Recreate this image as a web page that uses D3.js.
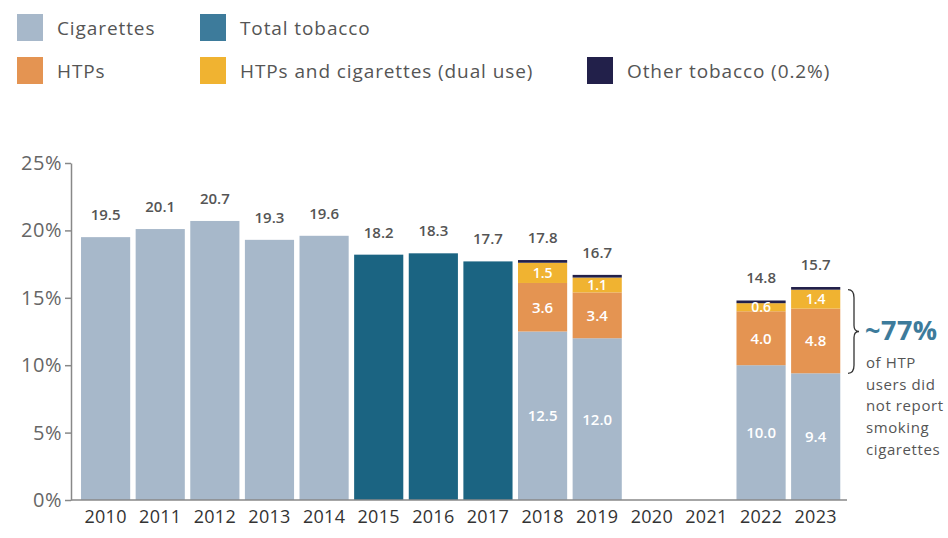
<!DOCTYPE html>
<html>
<head>
<meta charset="utf-8">
<script src="https://cdn.jsdelivr.net/npm/d3@7"></script>
<style>
  body { margin: 0; background: #fff; }
  svg { font-family: 'Open Sans', 'Noto Sans', sans-serif; }
</style>
</head>
<body>
<script>
const years = [2010, 2011, 2012, 2013, 2014, 2015, 2016, 2017, 2018, 2019, 2020, 2021, 2022, 2023]
const cigarettes = [19.5, 20.1, 20.7, 19.3, 19.6, null, null, null, 12.5, 12.0, null, null, 10.0, 9.4]
const totalTobacco = [null, null, null, null, null, 18.2, 18.3, 17.7, null, null, null, null, null, null]
const htps = [null, null, null, null, null, null, null, null, 3.6, 3.4, null, null, 4.0, 4.8]
const dualUse = [null, null, null, null, null, null, null, null, 1.5, 1.1, null, null, 0.6, 1.4]
const otherTobacco = [null, null, null, null, null, null, null, null, 0.2, 0.2, null, null, 0.2, 0.2]
const totals = [19.5, 20.1, 20.7, 19.3, 19.6, 18.2, 18.3, 17.7, 17.8, 16.7, null, null, 14.8, 15.7]
const yTicks = [0, 5, 10, 15, 20, 25]

const legendItems = [
  { label: 'Cigarettes', color: '#a7b8ca', row: 0, col: 0 },
  { label: 'Total tobacco', color: '#3d7b9b', row: 0, col: 1 },
  { label: 'HTPs', color: '#e49452', row: 1, col: 0 },
  { label: 'HTPs and cigarettes (dual use)', color: '#f0b331', row: 1, col: 1 },
  { label: 'Other tobacco (0.2%)', color: '#22204a', row: 1, col: 2 }
]

const colors = {
  cig: '#a7b8ca',
  total: '#1b6482',
  htp: '#e49452',
  dual: '#f0b331',
  other: '#22204a'
}

let width = 948
let height = 538

let svg = d3.select('body').append('svg')
  .attr('width', width)
  .attr('height', height)

let x = d3.scaleBand()
  .domain(years)
  .range([78.3, 843])
  .paddingInner(0.1)
  .paddingOuter(0.05)

let y = d3.scaleLinear()
  .domain([0, 25])
  .range([500, 163])

// legend
let colX = [17, 200, 587]
let rowY = [14, 57]
let legend = svg.selectAll('.legend')
  .data(legendItems)
  .enter().append('g')
  .attr('class', 'legend')
  .attr('transform', d => `translate(${colX[d.col]},${rowY[d.row]})`)

legend.append('rect')
  .attr('width', 26)
  .attr('height', 27)
  .attr('fill', d => d.color)

legend.append('text')
  .attr('x', 40)
  .attr('y', 14)
  .attr('dy', '0.35em')
  .attr('fill', '#555')
  .style('font-size', '19px')
  .style('letter-spacing', '0.9px')
  .text(d => d.label)

// build stacked segments per year
let segments = []
years.forEach((yr, i) => {
  let base = 0
  let parts = [
    { key: 'cig', v: cigarettes[i] },
    { key: 'total', v: totalTobacco[i] },
    { key: 'htp', v: htps[i] },
    { key: 'dual', v: dualUse[i] },
    { key: 'other', v: otherTobacco[i] }
  ]
  let stacked = htps[i] != null
  parts.forEach(p => {
    if (p.v == null) return
    segments.push({ year: yr, key: p.key, y0: base, y1: base + p.v, v: p.v, stacked: stacked })
    base += p.v
  })
})

svg.selectAll('.seg')
  .data(segments)
  .enter().append('rect')
  .attr('class', 'seg')
  .attr('x', d => x(d.year))
  .attr('width', x.bandwidth())
  .attr('y', d => y(d.y1))
  .attr('height', d => y(d.y0) - y(d.y1))
  .attr('fill', d => colors[d.key])

// labels inside stacked segments
svg.selectAll('.seglabel')
  .data(segments.filter(d => d.stacked && d.key !== 'other'))
  .enter().append('text')
  .attr('class', 'seglabel')
  .attr('x', d => x(d.year) + x.bandwidth() / 2)
  .attr('y', d => y((d.y0 + d.y1) / 2))
  .attr('dy', '0.36em')
  .attr('text-anchor', 'middle')
  .attr('fill', '#fff')
  .style('font-size', d => d.key === 'dual' ? '14px' : '15px')
  .style('font-weight', '600')
  .text(d => d.v.toFixed(1))

// total labels on top
let topData = years.map((yr, i) => ({ year: yr, total: totals[i], top: [cigarettes[i], totalTobacco[i], htps[i], dualUse[i], otherTobacco[i]].reduce((a, b) => a + (b || 0), 0) }))
  .filter(d => d.total != null)

svg.selectAll('.toplabel')
  .data(topData)
  .enter().append('text')
  .attr('class', 'toplabel')
  .attr('x', d => x(d.year) + x.bandwidth() / 2)
  .attr('y', d => y(d.top) - 17)
  .attr('text-anchor', 'middle')
  .attr('fill', '#555')
  .style('font-size', '15px')
  .style('font-weight', '600')
  .text(d => d.total.toFixed(1))

// axes
let yAxis = svg.append('g')
  .attr('transform', 'translate(71,0)')
  .call(d3.axisLeft(y).tickValues(yTicks).tickFormat(d => d + '%').tickSize(6).tickSizeOuter(0))
yAxis.select('.domain').attr('stroke', '#888').attr('stroke-width', 1.5)
yAxis.selectAll('.tick line').attr('stroke', '#888').attr('stroke-width', 1.5)
yAxis.selectAll('.tick text')
  .attr('x', -9)
  .attr('fill', '#666')
  .style('font-size', '20px')
  .style('letter-spacing', '0.5px')
  .style('font-family', "'Open Sans', sans-serif")

let xAxis = svg.append('g')
  .attr('transform', 'translate(0,500)')
  .call(d3.axisBottom(x).tickSize(0).tickSizeOuter(0).tickPadding(10))
xAxis.select('.domain').attr('d', 'M71,0H847').attr('stroke', '#888').attr('stroke-width', 1.5)
xAxis.selectAll('.tick text')
  .attr('fill', '#333')
  .style('font-size', '18px')
  .style('letter-spacing', '0.3px')
  .style('font-family', "'Open Sans', sans-serif")

// brace annotation for 2023
let lastIdx = years.length - 1
let braceTop = y(cigarettes[lastIdx] + htps[lastIdx] + dualUse[lastIdx])
let braceBot = y(cigarettes[lastIdx])
let bx = 848
let bm = (braceTop + braceBot) / 2
svg.append('path')
  .attr('d', `M${bx},${braceTop} Q${bx + 6},${braceTop} ${bx + 6},${braceTop + 8} L${bx + 6},${bm - 6} Q${bx + 6},${bm} ${bx + 11},${bm} Q${bx + 6},${bm} ${bx + 6},${bm + 6} L${bx + 6},${braceBot - 8} Q${bx + 6},${braceBot} ${bx},${braceBot}`)
  .attr('fill', 'none')
  .attr('stroke', '#333')
  .attr('stroke-width', 1.3)

svg.append('text')
  .attr('x', 865)
  .attr('y', 340)
  .attr('fill', '#3d7b9b')
  .style('font-size', '27px')
  .style('font-weight', 'bold')
  .style('letter-spacing', '0.5px')
  .text('~77%')

let noteLines = ['of HTP', 'users did', 'not report', 'smoking', 'cigarettes']
svg.selectAll('.note')
  .data(noteLines)
  .enter().append('text')
  .attr('class', 'note')
  .attr('x', 866)
  .attr('y', (d, i) => 368 + i * 21.7)
  .attr('fill', '#555')
  .style('font-size', '15px')
  .style('letter-spacing', '0.6px')
  .text(d => d)
</script>
</body>
</html>
